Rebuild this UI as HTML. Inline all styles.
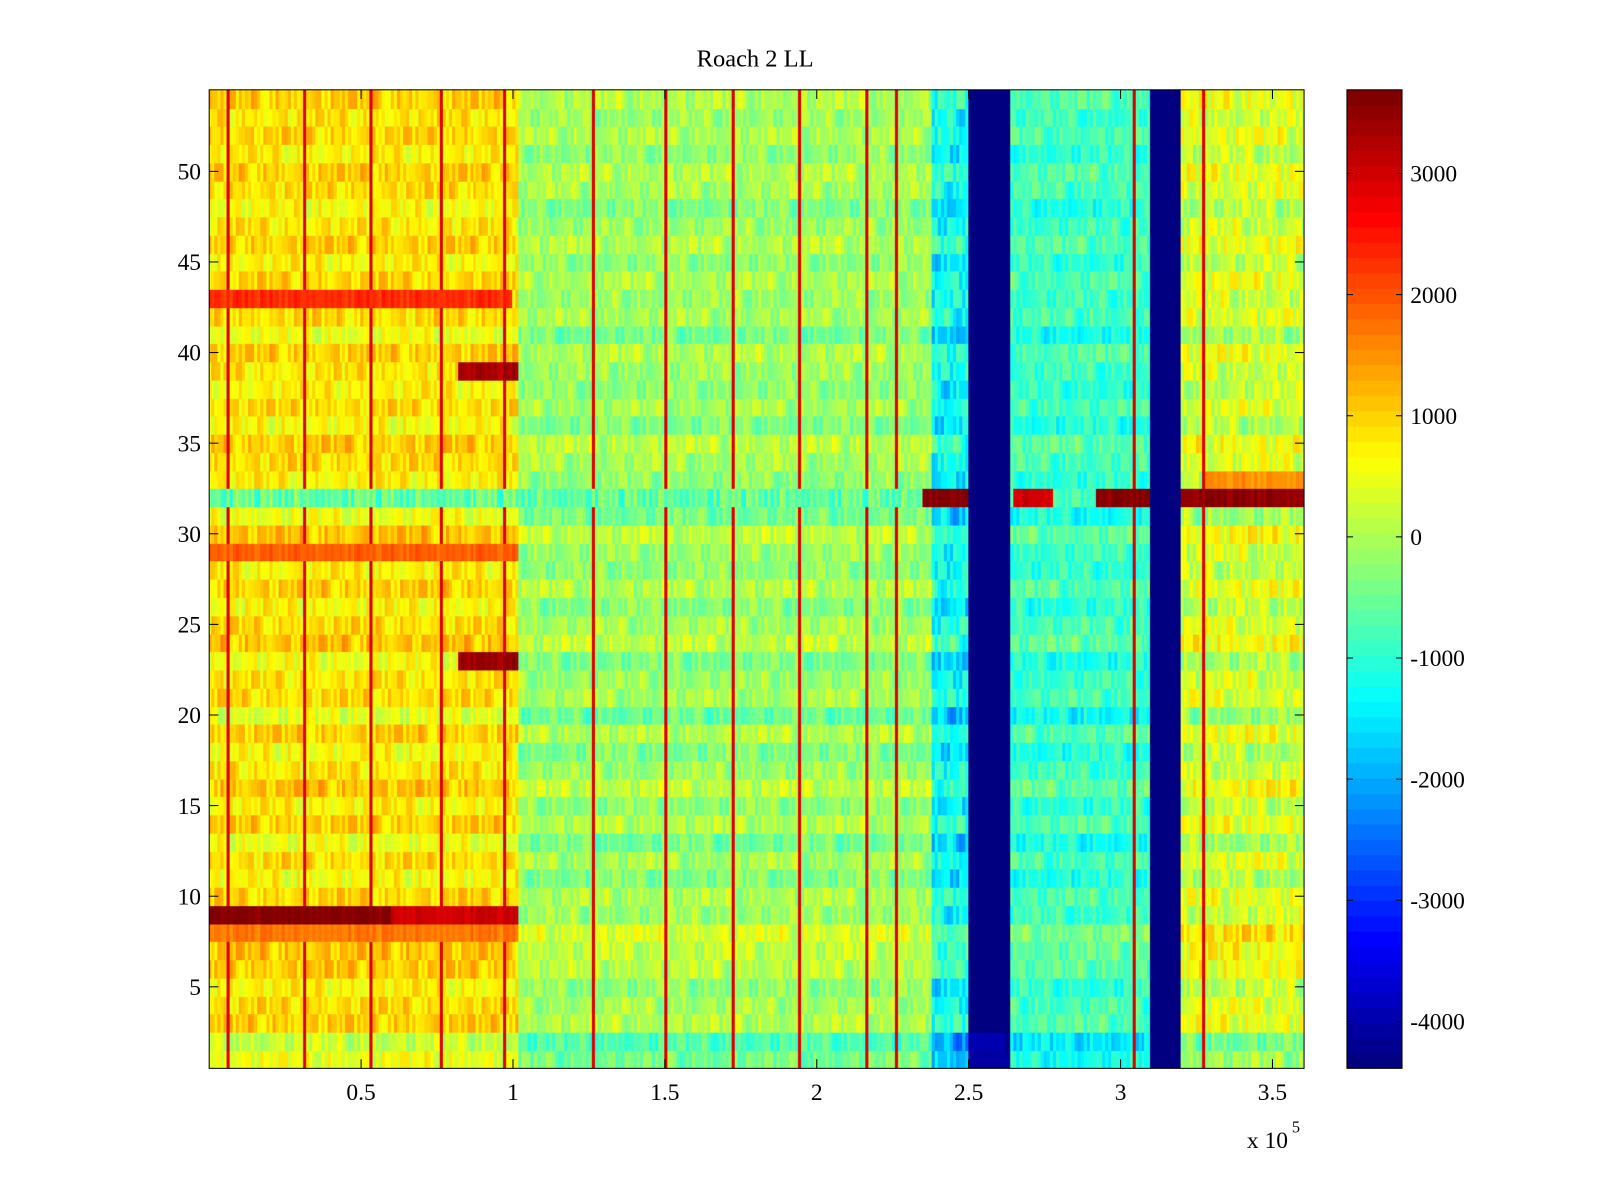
<!DOCTYPE html>
<html><head><meta charset="utf-8">
<style>
body{margin:0;background:#fff;width:1600px;height:1200px;overflow:hidden;position:relative;font-family:"Liberation Serif",serif;}
#wrap{position:absolute;left:0;top:0;width:1568px;height:1176px;transform:scale(1.0204);transform-origin:0 0;}
#hm{position:absolute;left:205px;top:88px;}
#cb{position:absolute;left:1320px;top:88px;}
svg{position:absolute;left:0;top:0;}
</style></head>
<body>
<div id="wrap">
<canvas id="hm" width="1073" height="959"></canvas>
<canvas id="cb" width="54" height="959"></canvas>
<svg id="ax" width="1568" height="1176"></svg>
</div>
<script>
// ---- data ----
const xEdges=[0,102,238,250,264,310,320,361];            // x segment edges (x1e3)
const segBase=[800,-150,-1300,-4388,-900,-4388,250];     // base values per segment
const segNoise=[1,1,1.3,0,1,0,1.2];
const rowOffsets=[-300,-600,200,100,-100,250,300,500,0,150,-200,100,-300,200,-100,300,0,-200,200,-400,100,0,-250,300,100,-150,200,-100,0,300,-300,0,-100,100,250,-200,100,-100,0,200,-300,100,0,150,-100,200,0,-200,100,200,-100,150,0,200];
const colJitter=[120,-250,300,-80,400,-300,50,200,-450,150,-100,350,-200,0,250,-350,100,-50,300,-150,450,-400,80,-120,220,-280,30,380,-60,-320,180,-220,260,-30,140,-380,330,-170,60,-90];
const ovRow=[9,9,43,29,39,23,32,32,32,32,32,33,8,1,2];
const ovX0=[0,60,0,0,82,82,0,235,265,292,320,328,0,250,250];
const ovX1=[60,102,100,102,102,102,235,250,278,310,361,361,102,264,262];
const ovVal=[3600,3000,2300,1900,3300,3400,-600,3600,3000,3600,3500,1500,1700,-4100,-3900];
const vLines=[6,31,53,76,97,126,150,172,194,216,226,304,327];
const vLineVal=2900;
const cMin=-4388,cMax=3691;
const xTicks=[0.5,1,1.5,2,2.5,3,3.5];
const yTicks=[5,10,15,20,25,30,35,40,45,50];
const cTicks=[3000,2000,1000,0,-1000,-2000,-3000,-4000];
// ---- scales ----
const PX=205,PY=88,PW=1073,PH=959,XMAX=360.4;
const sx=v=>PX+v/XMAX*PW;           // v in 1e3 units
const sy=r=>PY+(54.5-r)/54*PH;
const sc=v=>PY+(cMax-v)/(cMax-cMin)*PH;
function jet(v){let t=(v-cMin)/(cMax-cMin);t=Math.max(0,Math.min(1,t));t=Math.min(63,Math.floor(t*64))/63;
 const c=x=>Math.round(255*Math.max(0,Math.min(1,1.5-Math.abs(x))));
 return `rgb(${c(4*t-3)},${c(4*t-2)},${c(4*t-1)})`;}
function seg(x){for(let i=0;i<segBase.length;i++) if(x>=xEdges[i]&&x<xEdges[i+1]) return i;return segBase.length-1;}
const ctx=document.getElementById('hm').getContext('2d');
for(let c=0;c<361;c++){
 const s=seg(c+0.5);
 for(let r=1;r<=54;r++){
  let v=segBase[s]+segNoise[s]*(rowOffsets[r-1]+colJitter[(c*7+r*3)%colJitter.length]);
  if(segNoise[s]>0 && vLines.includes(c)) v=vLineVal;
  for(let k=0;k<ovRow.length;k++) if(ovRow[k]===r&&c>=ovX0[k]&&c<ovX1[k]) v=ovVal[k]+(segNoise[s]?colJitter[(c*3)%colJitter.length]*(ovVal[k]<0?1.3:0.4):0);
  ctx.fillStyle=jet(v);
  const x0=sx(c)-PX,x1=sx(c+1)-PX,y0=sy(r+0.5)-PY,y1=sy(r-0.5)-PY;
  ctx.fillRect(Math.floor(x0),Math.floor(y0),Math.ceil(x1-x0)+1,Math.ceil(y1-y0)+1);
 }
}
const cctx=document.getElementById('cb').getContext('2d');
for(let i=0;i<64;i++){const v=cMin+(i+0.5)/64*(cMax-cMin);cctx.fillStyle=jet(v);
 const y0=sc(cMin+(i+1)/64*(cMax-cMin))-PY,y1=sc(cMin+i/64*(cMax-cMin))-PY;cctx.fillRect(0,Math.floor(y0),54,Math.ceil(y1-y0)+1);}
// ---- axes ----
const svg=document.getElementById('ax');const NS='http://www.w3.org/2000/svg';
function el(t,a,txt){const e=document.createElementNS(NS,t);for(const k in a)e.setAttribute(k,a[k]);if(txt!==undefined)e.textContent=txt;svg.appendChild(e);return e;}
let e;
e=el('rect',{x:PX,y:PY,width:PW,height:PH,fill:'none',stroke:'#000','stroke-width':1});


e=el('rect',{x:1320,y:PY,width:54,height:PH,fill:'none',stroke:'#000','stroke-width':1});


e=el('text',{x:740,y:65,'font-size':24,'text-anchor':'middle'},'Roach 2 LL');


xTicks.forEach(t=>{const x=sx(t*100);
 el('line',{x1:x,x2:x,y1:PY+PH,y2:PY+PH-9,stroke:'#000'});el('line',{x1:x,x2:x,y1:PY,y2:PY+9,stroke:'#000'});
 e=el('text',{x:x,y:1078,'font-size':23,'text-anchor':'middle'},String(t));
 
 });
yTicks.forEach(t=>{const y=sy(t);
 el('line',{x1:PX,x2:PX+9,y1:y,y2:y,stroke:'#000'});el('line',{x1:PX+PW,x2:PX+PW-9,y1:y,y2:y,stroke:'#000'});
 e=el('text',{x:197,y:y+8,'font-size':23,'text-anchor':'end'},String(t));
 
 });
cTicks.forEach(t=>{const y=sc(t);
 el('line',{x1:1320,x2:1326,y1:y,y2:y,stroke:'#000'});el('line',{x1:1374,x2:1368,y1:y,y2:y,stroke:'#000'});
 e=el('text',{x:1382,y:y+8,'font-size':23},String(t));
 
 });
e=el('text',{x:1222,y:1125,'font-size':23},'x 10');


e=el('text',{x:1266,y:1110,'font-size':16},'5');


</script>
</body></html>
